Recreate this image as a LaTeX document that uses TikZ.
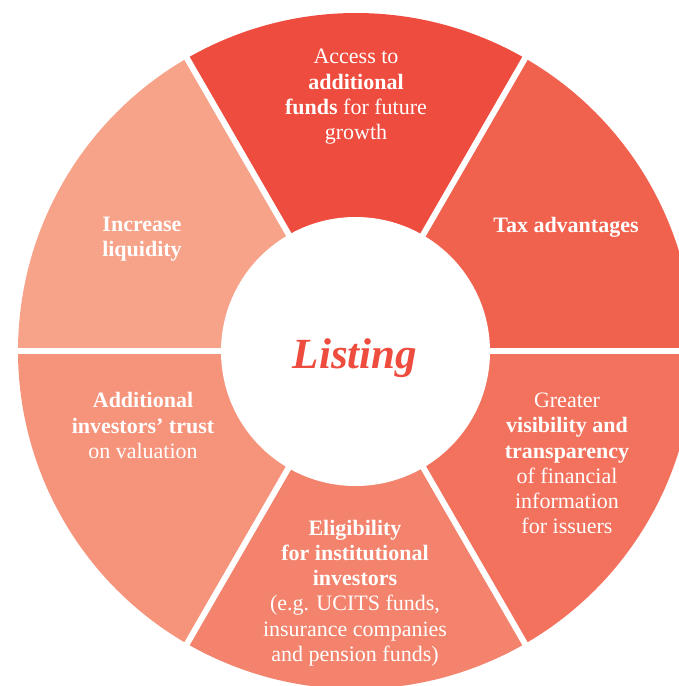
\documentclass[tikz,border=0pt]{standalone}
\usepackage{fontspec}
\setmainfont{Liberation Serif}
\definecolor{cTop}{HTML}{EE4C3E}
\definecolor{cTax}{HTML}{F0614E}
\definecolor{cGreater}{HTML}{F2725E}
\definecolor{cElig}{HTML}{F3836C}
\definecolor{cAdd}{HTML}{F5937B}
\definecolor{cInc}{HTML}{F6A38A}
\definecolor{cListing}{HTML}{EE4C3E}
\begin{document}
\begin{tikzpicture}[x=1pt,y=1pt,
  seglabel/.style={text=white, align=center, font=\fontsize{22}{25.3}\selectfont, inner sep=0pt},
  gapline/.style={draw=white, line width=6pt}]
\useasboundingbox (0,0) rectangle (679,-686);
\clip (0,0) rectangle (679,-686);
\coordinate (C) at (356,-351);
\def\R{338}
% wedges
\fill[cTax]     (C) -- ++(0:\R)   arc[start angle=0,   end angle=60,  radius=\R] -- cycle;
\fill[cTop]     (C) -- ++(60:\R)  arc[start angle=60,  end angle=120, radius=\R] -- cycle;
\fill[cInc]     (C) -- ++(120:\R) arc[start angle=120, end angle=180, radius=\R] -- cycle;
\fill[cAdd]     (C) -- ++(180:\R) arc[start angle=180, end angle=240, radius=\R] -- cycle;
\fill[cElig]    (C) -- ++(240:\R) arc[start angle=240, end angle=300, radius=\R] -- cycle;
\fill[cGreater] (C) -- ++(300:\R) arc[start angle=300, end angle=360, radius=\R] -- cycle;
% gaps
\foreach \a in {0,60,...,300} {
  \draw[gapline] (C) -- ++(\a:\R+10);
}
% inner circle
\node[circle, fill=white, minimum size=269pt, inner sep=0pt] (hub) at (355.5,-351.5) {};
\node[text=cListing, font=\fontsize{43}{48}\selectfont\bfseries\itshape, inner sep=0pt] (listing) at (355,-358) {Listing};
% labels
\node[seglabel] (access) at (356,-97) {Access to\\\textbf{additional}\\\textbf{funds} for future\\growth};
\node[seglabel] (tax) at (566,-227) {\textbf{Tax advantages}};
\node[seglabel] (liq) at (142,-239.5) {\textbf{Increase}\\\textbf{liquidity}};
\node[seglabel] (trust) at (143,-425.5) {\textbf{Additional}\\\textbf{investors’ trust}\\on valuation};
\node[seglabel] (vis) at (567,-463.5) {Greater\\\textbf{visibility and}\\\textbf{transparency}\\of financial\\information\\for issuers};
\node[seglabel] (elig) at (355,-593) {\textbf{Eligibility}\\\textbf{for institutional}\\\textbf{investors}\\(e.g. UCITS funds,\\insurance companies\\and pension funds)};
\end{tikzpicture}
\end{document}
